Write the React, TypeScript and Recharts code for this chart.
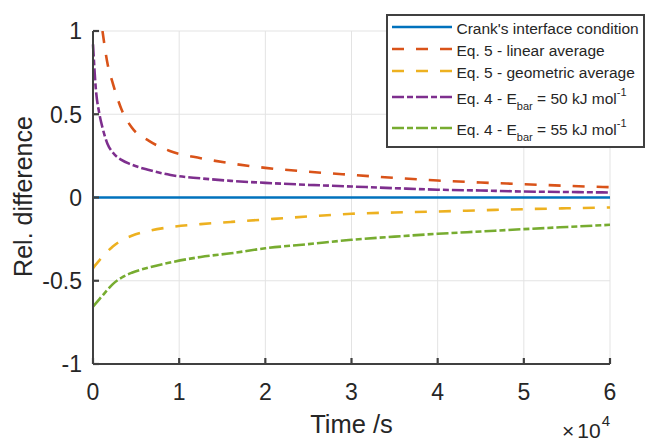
import React from 'react'
import { LineChart, Line, XAxis, YAxis, CartesianGrid } from 'recharts'

// time in seconds (axis shows it in units of 1e4)
const timeSec = [0, 300, 750, 1100, 1700, 2300, 3300, 4500, 6500, 9000, 12500, 16000, 20000, 25000, 30000, 35000, 40000, 45000, 50000, 55000, 60000]

const crankVals = [0, 0, 0, 0, 0, 0, 0, 0, 0, 0, 0, 0, 0, 0, 0, 0, 0, 0, 0, 0, 0]
const linearVals = [null, null, null, 1.0, 0.8, 0.686, 0.53, 0.42, 0.34, 0.278, 0.236, 0.205, 0.178, 0.155, 0.136, 0.118, 0.102, 0.09, 0.08, 0.07, 0.062]
const geometricVals = [-0.425, -0.405, -0.377, -0.356, -0.323, -0.294, -0.258, -0.23, -0.2, -0.178, -0.16, -0.147, -0.132, -0.114, -0.098, -0.09, -0.084, -0.077, -0.07, -0.065, -0.06]
const ebar50Vals = [0.92, 0.67, 0.5, 0.42, 0.32, 0.27, 0.226, 0.197, 0.165, 0.135, 0.115, 0.1, 0.088, 0.076, 0.066, 0.056, 0.047, 0.042, 0.036, 0.033, 0.03]
const ebar55Vals = [-0.655, -0.637, -0.61, -0.589, -0.553, -0.52, -0.482, -0.452, -0.42, -0.39, -0.357, -0.335, -0.305, -0.28, -0.254, -0.235, -0.218, -0.204, -0.19, -0.177, -0.164]

const xTicks = [0, 10000, 20000, 30000, 40000, 50000, 60000]
const yTicks = [-1, -0.5, 0, 0.5, 1]

const seriesKeys = ['crank', 'linear', 'geometric', 'ebar50', 'ebar55']
const seriesLabels = [
    "Crank's interface condition",
    'Eq. 5 - linear average',
    'Eq. 5 - geometric average',
    'Eq. 4 - E_{bar} = 50 kJ mol^{-1}',
    'Eq. 4 - E_{bar} = 55 kJ mol^{-1}',
]
const seriesColors = ['#0072BD', '#D95319', '#EDB120', '#7E2F8E', '#77AC30']
const seriesDash = [undefined, '12 12', '12 12', '12 3 6 3', '12 3 6 3']

const data = timeSec.map((t, i) => ({
    t,
    crank: crankVals[i],
    linear: linearVals[i],
    geometric: geometricVals[i],
    ebar50: ebar50Vals[i],
    ebar55: ebar55Vals[i],
}))

const AXIS = '#404040'
const TEXT = '#262626'
const FONT = '"Liberation Sans", Arial, Helvetica, sans-serif'
const TICK_LEN = 6
const tickLineStyle = { stroke: AXIS, strokeWidth: 2.2 }
const axisLineStyle = { stroke: AXIS, strokeWidth: 2 }

// ticks point inward (negative tickSize), so x/y below sit TICK_LEN inside the axis
function BottomTick({ x, y, payload }: any) {
    return (
        <text x={x} y={y + TICK_LEN + 36} textAnchor="middle" fontSize={23} fill={TEXT}>
            {payload.value / 10000}
        </text>
    )
}
function LeftTick({ x, y, payload }: any) {
    return (
        <text x={x - TICK_LEN - 11} y={y + 8.3} textAnchor="end" fontSize={23} fill={TEXT}>
            {payload.value}
        </text>
    )
}
function NoLabel() {
    return <g />
}

// tiny parser for E_{bar} / mol^{-1}
function richLabel(s: string) {
    const parts = s.split(/(_\{[^}]*\}|\^\{[^}]*\})/).filter(Boolean)
    let shift = 0
    return parts.map((p, i) => {
        let dy = 0
        let txt = p
        let size: number | undefined
        if (p.startsWith('_{')) {
            txt = p.slice(2, -1)
            dy = 6.5 - shift
            shift = 6.5
            size = 11
        } else if (p.startsWith('^{')) {
            txt = p.slice(2, -1)
            dy = -8 - shift
            shift = -8
            size = 11
        } else {
            dy = -shift
            shift = 0
        }
        return (
            <tspan key={i} dy={dy} fontSize={size}>
                {txt}
            </tspan>
        )
    })
}

function LegendBox() {
    const rowY = [27, 49, 71, 97, 128]
    return (
        <svg width={647} height={440} style={{ position: 'absolute', left: 0, top: 0, pointerEvents: 'none' }}>
            <rect x={387} y={15} width={257} height={132} fill="#fff" stroke={AXIS} strokeWidth={2} />
            {seriesLabels.map((lab, i) => (
                <g key={lab}>
                    <line
                        x1={392}
                        x2={452}
                        y1={rowY[i]}
                        y2={rowY[i]}
                        stroke={seriesColors[i]}
                        strokeWidth={2.6}
                        strokeDasharray={seriesDash[i]}
                    />
                    <text x={456.5} y={rowY[i] + 6.5} fontSize={15.5} fill={TEXT}>
                        {richLabel(lab)}
                    </text>
                </g>
            ))}
        </svg>
    )
}

export default function App() {
    return (
        <div style={{ position: 'absolute', left: 0, top: 0, width: 647, height: 440, background: '#fff', fontFamily: FONT }}>
            <LineChart width={647} height={440} data={data} margin={{ top: 31, right: 37, left: 0, bottom: 0 }}>
                <CartesianGrid stroke="#e3e3e3" strokeWidth={1} horizontalValues={yTicks} verticalValues={xTicks} />
                <XAxis
                    dataKey="t"
                    type="number"
                    domain={[0, 60000]}
                    ticks={xTicks}
                    interval={0}
                    height={76}
                    tickSize={-TICK_LEN}
                    tickMargin={0}
                    tick={<BottomTick />}
                    tickLine={tickLineStyle}
                    axisLine={axisLineStyle}
                />
                <XAxis
                    xAxisId="top"
                    orientation="top"
                    dataKey="t"
                    type="number"
                    domain={[0, 60000]}
                    ticks={xTicks}
                    interval={0}
                    height={0}
                    tickSize={-TICK_LEN}
                    tickMargin={0}
                    tick={<NoLabel />}
                    tickLine={tickLineStyle}
                    axisLine={axisLineStyle}
                />
                <YAxis
                    type="number"
                    domain={[-1, 1]}
                    allowDataOverflow
                    ticks={yTicks}
                    interval={0}
                    width={93}
                    tickSize={-TICK_LEN}
                    tickMargin={0}
                    tick={<LeftTick />}
                    tickLine={tickLineStyle}
                    axisLine={axisLineStyle}
                />
                <YAxis
                    yAxisId="right"
                    orientation="right"
                    type="number"
                    domain={[-1, 1]}
                    ticks={yTicks}
                    interval={0}
                    width={0}
                    tickSize={-TICK_LEN}
                    tickMargin={0}
                    tick={<NoLabel />}
                    tickLine={tickLineStyle}
                    axisLine={axisLineStyle}
                />
                {seriesKeys.map((k, i) => (
                    <Line
                        key={k}
                        type="monotone"
                        dataKey={k}
                        name={seriesLabels[i]}
                        stroke={seriesColors[i]}
                        strokeWidth={2.6}
                        strokeDasharray={seriesDash[i]}
                        dot={false}
                        activeDot={false}
                        isAnimationActive={false}
                    />
                ))}
                <text x={32} y={196.5} transform="rotate(-90 32 196.5)" textAnchor="middle" fontSize={25} fill={TEXT}>
                    Rel. difference
                </text>
                <text x={351.5} y={433} textAnchor="middle" fontSize={25.5} fill={TEXT}>
                    Time /s
                </text>
                <text x={610} y={437.5} textAnchor="end" fontSize={21} fill={TEXT}>
                    <tspan>×</tspan>
                    <tspan dx={3}>10</tspan>
                    <tspan dx={1} dy={-12} fontSize={15}>
                        4
                    </tspan>
                </text>
            </LineChart>
            <LegendBox />
        </div>
    )
}
